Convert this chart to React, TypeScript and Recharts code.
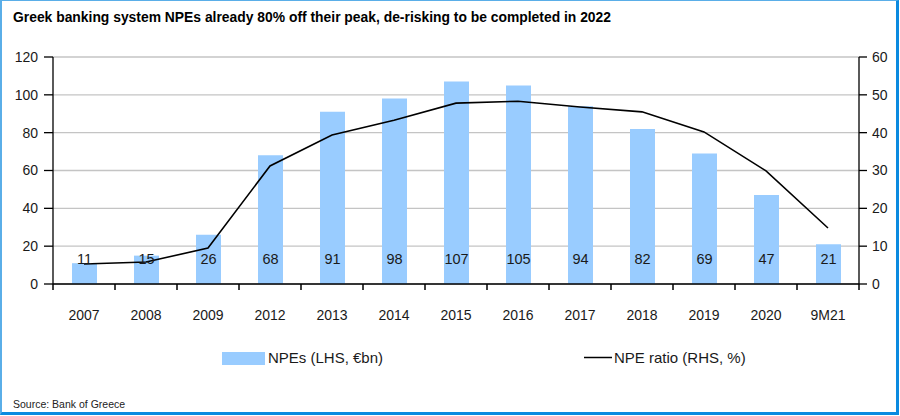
import React from "react"
import {
  Bar,
  CartesianGrid,
  ComposedChart,
  LabelList,
  Line,
  XAxis,
  YAxis,
} from "recharts"

const categories = [
  "2007", "2008", "2009", "2012", "2013", "2014", "2015",
  "2016", "2017", "2018", "2019", "2020", "9M21",
]
const npes = [11, 15, 26, 68, 91, 98, 107, 105, 94, 82, 69, 47, 21]
const npeRatio = [5.3, 5.8, 9.5, 31.2, 39.4, 43.3, 47.8, 48.3, 46.8, 45.5, 40.2, 29.9, 14.8]
const leftTicks = [0, 20, 40, 60, 80, 100, 120]
const rightTicks = [0, 10, 20, 30, 40, 50, 60]

const data = categories.map((c, i) => ({ cat: c, npes: npes[i], ratio: npeRatio[i] }))

const FONT = "'Liberation Sans', Arial, sans-serif"
const TXT = "#1a1a1a"
const BAND = 806 / categories.length

function CatTick(props: any) {
  const { x, y, index, payload } = props
  const half = BAND / 2
  return (
    <g>
      <line x1={x - half} x2={x - half} y1={y} y2={y + 6} stroke="#000" strokeWidth={1.5} />
      {index === categories.length - 1 && (
        <line x1={x + half} x2={x + half} y1={y} y2={y + 6} stroke="#000" strokeWidth={1.5} />
      )}
      <text x={x} y={y + 36} textAnchor="middle" fontSize={14} fill={TXT} fontFamily={FONT}>
        {payload.value}
      </text>
    </g>
  )
}

function BarValue(props: any) {
  const { x, y, width, height, value } = props
  return (
    <text
      x={x + width / 2}
      y={y + height - 20}
      textAnchor="middle"
      fontSize={14.5}
      fill={TXT}
      fontFamily={FONT}
    >
      {value}
    </text>
  )
}

export default function App() {
  return (
    <div style={{ position: "absolute", left: 0, top: 0, width: 900, height: 416, background: "#fff" }}>
      <ComposedChart
        width={900}
        height={416}
        data={data}
        margin={{ top: 57, right: 0, left: 0, bottom: 102 }}
        barSize={25}
      >
        <CartesianGrid yAxisId="left" vertical={false} stroke="#c4c4c4" strokeWidth={1.3} />
        <XAxis
          dataKey="cat"
          height={30}
          tick={<CatTick />}
          tickLine={false}
          tickSize={0}
          tickMargin={0}
          interval={0}
          axisLine={{ stroke: "#000", strokeWidth: 1.5 }}
        />
        <YAxis
          yAxisId="left"
          width={53}
          domain={[0, 120]}
          ticks={leftTicks}
          tickSize={9}
          tickMargin={6}
          axisLine={{ stroke: "#000", strokeWidth: 1.3 }}
          tickLine={{ stroke: "#000", strokeWidth: 1.3 }}
          tick={{ fontSize: 14, fill: TXT, fontFamily: FONT }}
        />
        <YAxis
          yAxisId="right"
          orientation="right"
          width={41}
          domain={[0, 60]}
          ticks={rightTicks}
          tickSize={8}
          tickMargin={5}
          axisLine={{ stroke: "#000", strokeWidth: 1.3 }}
          tickLine={{ stroke: "#000", strokeWidth: 1.3 }}
          tick={{ fontSize: 14, fill: TXT, fontFamily: FONT, textAnchor: "start" }}
        />
        <Bar yAxisId="left" dataKey="npes" fill="#99CCFF" isAnimationActive={false}>
          <LabelList dataKey="npes" content={<BarValue />} />
        </Bar>
        <Line
          yAxisId="right"
          dataKey="ratio"
          type="linear"
          stroke="#000"
          strokeWidth={1.6}
          dot={false}
          activeDot={false}
          isAnimationActive={false}
        />
      </ComposedChart>
      <svg
        width={900}
        height={416}
        style={{ position: "absolute", left: 0, top: 0, pointerEvents: "none" }}
        fontFamily={FONT}
      >
        <text x={13} y={22} fontSize={14} fontWeight="bold" fill="#000" textLength={598} lengthAdjust="spacingAndGlyphs">
          Greek banking system NPEs already 80% off their peak, de-risking to be completed in 2022
        </text>
        <rect x={222} y={352} width={43} height={13} fill="#99CCFF" />
        <text x={268} y={363} fontSize={15} fill={TXT}>NPEs (LHS, €bn)</text>
        <line x1={584} x2={612} y1={357.5} y2={357.5} stroke="#000" strokeWidth={1.5} />
        <text x={614} y={363} fontSize={15} fill={TXT}>NPE ratio (RHS, %)</text>
        <text x={13} y={408} fontSize={10.5} fill="#222">Source: Bank of Greece</text>
      </svg>
      <div
        style={{
          position: "absolute",
          left: 0,
          top: 0,
          width: 899,
          height: 415,
          boxSizing: "border-box",
          borderTop: "1px solid #5aaee8",
          borderLeft: "2px solid #5aaee8",
          borderRight: "3px solid #0b8ae0",
          borderBottom: "3px solid #0b8ae0",
          pointerEvents: "none",
        }}
      />
    </div>
  )
}
